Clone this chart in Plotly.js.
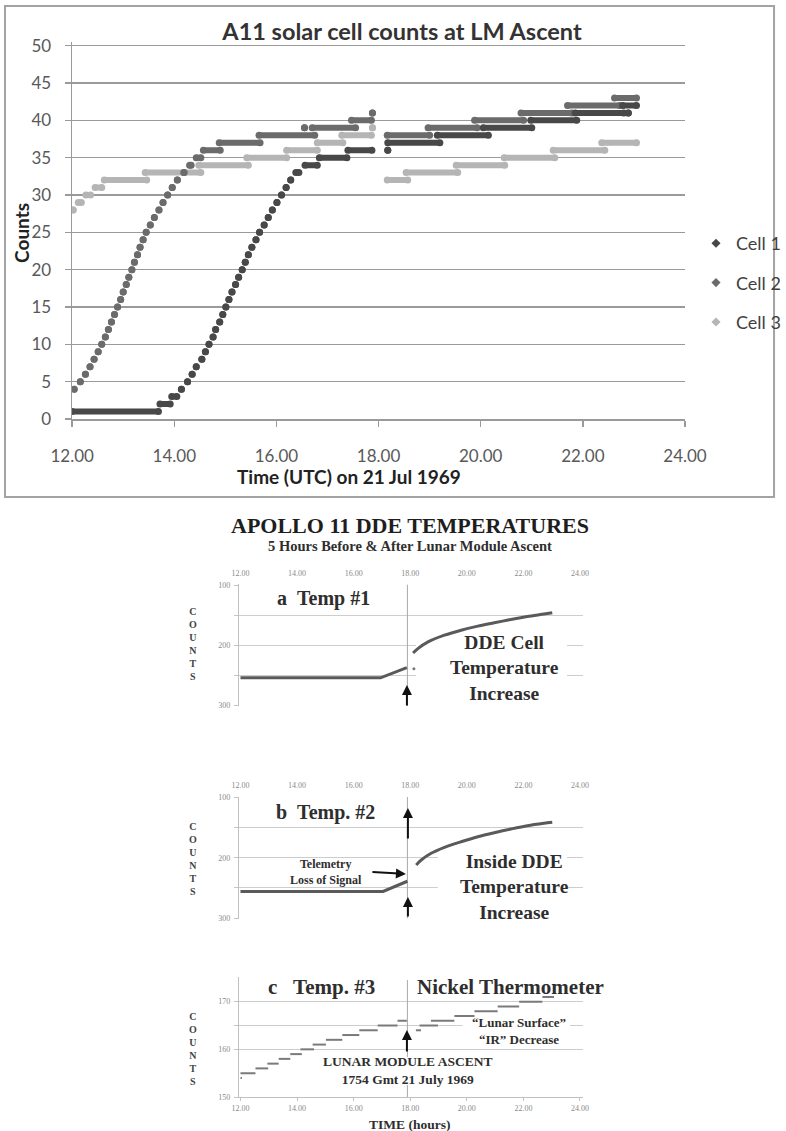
<!DOCTYPE html>
<html><head><meta charset="utf-8">
<script src="https://cdn.plot.ly/plotly-3.0.1.min.js"></script>
<style>html,body{margin:0;padding:0;background:#fff}</style>
</head><body><div id="chart" style="width:786px;height:1131px"></div>
<script>
// ---------------- DATA ----------------
// Top chart: solar cell counts, segments [startHour, endHour, count]
const cellNames = ['Cell 1', 'Cell 2', 'Cell 3'];
const cell1Segments = [
  [12.00,13.69,1],[13.72,13.92,2],[13.95,14.05,3],[14.14,14.14,4],[14.26,14.26,5],[14.35,14.35,6],
  [14.43,14.43,7],[14.54,14.54,8],[14.61,14.61,9],[14.68,14.68,10],[14.76,14.76,11],[14.81,14.81,12],
  [14.89,14.89,13],[14.95,14.95,14],[15.01,15.01,15],[15.07,15.07,16],[15.13,15.13,17],[15.20,15.20,18],
  [15.26,15.26,19],[15.33,15.33,20],[15.39,15.39,21],[15.45,15.45,22],[15.52,15.52,23],[15.60,15.60,24],
  [15.67,15.67,25],[15.76,15.76,26],[15.84,15.84,27],[15.92,15.92,28],[16.01,16.01,29],[16.10,16.10,30],
  [16.19,16.19,31],[16.28,16.28,32],[16.38,16.44,33],[16.56,16.80,34],[16.84,17.38,35],[17.40,17.87,36],
  [18.18,18.18,36],[18.18,19.20,37],[19.15,20.15,38],[20.05,21.00,39],[20.98,21.88,40],[21.85,22.80,41],
  [22.89,22.89,41],[22.78,23.05,42]
];
const cell2Segments = [
  [12.04,12.04,4],[12.16,12.16,5],[12.26,12.26,6],[12.35,12.35,7],[12.43,12.43,8],[12.51,12.51,9],
  [12.58,12.58,10],[12.65,12.65,11],[12.71,12.71,12],[12.77,12.77,13],[12.83,12.83,14],[12.89,12.89,15],
  [12.95,12.95,16],[13.00,13.00,17],[13.06,13.06,18],[13.11,13.11,19],[13.17,13.17,20],[13.22,13.22,21],
  [13.28,13.28,22],[13.33,13.33,23],[13.39,13.39,24],[13.45,13.45,25],[13.53,13.53,26],[13.61,13.61,27],
  [13.70,13.70,28],[13.78,13.78,29],[13.87,13.87,30],[13.96,13.96,31],[14.06,14.06,32],[14.19,14.19,33],
  [14.30,14.33,34],[14.43,14.52,35],[14.57,14.90,36],[14.88,15.68,37],[15.66,16.75,38],[16.55,16.55,39],
  [16.70,17.55,39],[17.47,17.86,40],[17.88,17.88,41],
  [18.17,19.00,38],[18.97,19.93,39],[19.88,20.84,40],[20.79,21.78,41],[21.70,22.72,42],[22.62,23.05,43]
];
const cell3Segments = [
  [12.02,12.02,28],[12.12,12.18,29],[12.27,12.36,30],[12.45,12.58,31],[12.63,13.46,32],[13.43,14.52,33],
  [14.48,15.45,34],[15.42,16.20,35],[16.20,16.80,36],[16.80,17.30,37],[17.28,17.86,38],[17.88,17.88,39],
  [18.17,18.57,32],[18.54,19.55,33],[19.52,20.47,34],[20.46,21.45,35],[21.42,22.43,36],[22.37,23.05,37]
];
const xTickHours = [12, 14, 16, 18, 20, 22, 24];

// LM ascent time (1754 GMT)
const ascentHour = 17.9;

// Temp #1 (DDE cell)
const temp1PreTime = [12.00, 16.95, 17.88];
const temp1PreCounts = [254, 254, 237];
const temp1DotTime = [18.13];
const temp1DotCounts = [239];
const temp1PostTime = [18.10, 18.27, 18.63, 19.21, 19.80, 20.39, 20.97, 21.56, 22.14, 22.73, 23.02];
const temp1PostCounts = [212.8, 205.5, 194.4, 183.3, 175.0, 168.3, 162.8, 157.2, 152.2, 148.3, 146.1];

// Temp #2 (inside DDE)
const temp2PreTime = [12.00, 17.04, 17.90];
const temp2PreCounts = [256, 256, 239];
const temp2PostTime = [18.21, 18.39, 18.74, 19.21, 19.80, 20.39, 20.97, 21.56, 22.14, 22.73, 23.02];
const temp2PostCounts = [212, 203.7, 192.6, 182.7, 173.4, 165.1, 158.4, 152.3, 146.8, 142.8, 141.2];

// Temp #3 (nickel thermometer) steps [startHour, endHour, count]
const temp3Segments = [
  [12.00,12.05,154],[12.00,12.53,155],[12.53,12.98,156],[12.95,13.35,157],[13.35,13.76,158],[13.76,14.17,159],
  [14.12,14.60,160],[14.55,15.02,161],[15.02,15.60,162],[15.60,16.20,163],[16.20,16.85,164],[16.85,17.55,165],
  [17.55,17.88,166],
  [18.20,18.38,164],[18.33,18.98,165],[18.73,19.56,166],[19.56,20.27,167],[20.27,21.09,168],[21.09,21.85,169],
  [21.85,22.67,170],[22.67,23.08,171]
];
const tempTickVals = [100, 150, 200, 250, 300];
const tempTickText = ['100', '', '200', '', '300'];
const temp3TickVals = [150, 160, 165, 170];
const temp3TickText = ['150', '160', '', '170'];

// ---------------- BUILD ----------------
const W = 786, H = 1131;
const fx = p => p / W;
const fy = p => 1 - p / H;

function segXY(segs) {
  const x = [], y = [];
  segs.forEach(s => { x.push(s[0], s[1], null); y.push(s[2], s[2], null); });
  return {x, y};
}

const cellColors = ['#484848', '#6b6b6b', '#b5b5b5'];
const cellSegs = [cell1Segments, cell2Segments, cell3Segments];
const traces = [];

// draw order: cell 3, cell 2, cell 1
[2, 1, 0].forEach(i => {
  const d = segXY(cellSegs[i]);
  traces.push({
    type: 'scatter', mode: 'lines+markers', x: d.x, y: d.y, xaxis: 'x', yaxis: 'y',
    line: {color: cellColors[i], width: 6}, marker: {color: cellColors[i], size: 7},
    connectgaps: false, showlegend: false, hoverinfo: 'skip'
  });
});
// legend entries
[0, 1, 2].forEach(i => {
  traces.push({
    type: 'scatter', mode: 'markers', x: [null], y: [null], xaxis: 'x', yaxis: 'y',
    name: cellNames[i], legendgroup: 'g' + i,
    marker: {color: cellColors[i], size: 7, symbol: 'diamond'}, hoverinfo: 'skip'
  });
});

const tempLine = {color: '#5a5a5a', width: 3};
traces.push({type:'scatter', mode:'lines', x: temp1PreTime, y: temp1PreCounts, xaxis:'x2', yaxis:'y2', line: tempLine, showlegend:false, hoverinfo:'skip'});
traces.push({type:'scatter', mode:'lines', x: temp1PostTime, y: temp1PostCounts, xaxis:'x2', yaxis:'y2', line: Object.assign({shape:'spline', smoothing:0.8}, tempLine), showlegend:false, hoverinfo:'skip'});
traces.push({type:'scatter', mode:'markers', x: temp1DotTime, y: temp1DotCounts, xaxis:'x2', yaxis:'y2', marker:{color:'#777', size:3}, showlegend:false, hoverinfo:'skip'});
traces.push({type:'scatter', mode:'lines', x: temp2PreTime, y: temp2PreCounts, xaxis:'x3', yaxis:'y3', line: tempLine, showlegend:false, hoverinfo:'skip'});
traces.push({type:'scatter', mode:'lines', x: temp2PostTime, y: temp2PostCounts, xaxis:'x3', yaxis:'y3', line: Object.assign({shape:'spline', smoothing:0.8}, tempLine), showlegend:false, hoverinfo:'skip'});
const t3 = segXY(temp3Segments);
traces.push({type:'scatter', mode:'lines', x: t3.x, y: t3.y, xaxis:'x4', yaxis:'y4', line:{color:'#7a7a7a', width:2}, connectgaps:false, showlegend:false, hoverinfo:'skip'});

// ---------------- LAYOUT ----------------
const serif = 'Liberation Serif, Times New Roman, serif';
const lato = 'Lato, Open Sans, sans-serif';
const smallTick = {family: serif, size: 8, color: '#8a8a8a'};

// lower plot areas (pixels)
const LX0 = 240, LX1 = 585.8;
const lowerRange = [11.94, 24.1];
const A = {top: 584.4, bot: 706.1, r: [301, 99]};
const B = {top: 796.9, bot: 918.6, r: [301, 99]};
const C = {top: 976.9, bot: 1097, r: [150, 175.2]};
const xTickText = xTickHours.map(h => h.toFixed(2));
// pixel -> data helpers for the lower panels (layout positioning only)
const dx = p => lowerRange[0] + (p - LX0) / (LX1 - LX0) * (lowerRange[1] - lowerRange[0]);
const dy = (box, p) => box.r[0] + (box.bot - p) / (box.bot - box.top) * (box.r[1] - box.r[0]);

function lowerX(anchor, side, extra) {
  return Object.assign({
    domain: [fx(LX0), fx(LX1)], range: lowerRange, anchor: anchor, side: side,
    tickvals: xTickHours, ticktext: xTickText, ticks: '', showline: false, showgrid: false,
    zeroline: false, tickfont: smallTick, automargin: false, fixedrange: true, ticklabelstandoff: 6
  }, extra || {});
}
function lowerY(anchor, box, tv, tt) {
  return {
    domain: [fy(box.bot), fy(box.top)], range: box.r, anchor: anchor,
    tickvals: tv, ticktext: tt, ticks: 'outside', ticklen: 4, tickcolor: '#c4c4c4',
    showline: true, linecolor: '#c0c0c0', linewidth: 1, gridcolor: '#cdcdcd', gridwidth: 1,
    zeroline: false, tickfont: smallTick, automargin: false, fixedrange: true, ticklabelstandoff: 2
  };
}

const layout = {
  width: W, height: H, margin: {l: 0, r: 0, t: 0, b: 0},
  paper_bgcolor: '#fff', plot_bgcolor: 'rgba(0,0,0,0)',
  title: {text: 'A11 solar cell counts at LM Ascent', x: fx(402), xanchor: 'center', y: fy(32), yanchor: 'middle',
          font: {family: lato, size: 23.5, color: '#333', weight: 'bold'}},
  showlegend: true,
  legend: {x: fx(700), y: fy(225), xanchor: 'left', yanchor: 'top', traceorder: 'grouped', tracegroupgap: 13,
           font: {family: lato, size: 18, color: '#404040'}, bgcolor: 'rgba(0,0,0,0)'},
  xaxis: {domain: [fx(72.5), fx(688.5)], range: [12, 24], anchor: 'y', tickvals: xTickHours, ticktext: xTickText,
          ticks: 'outside', ticklen: 6, tickwidth: 1.5, tickcolor: '#9a9a9a', showline: true, linecolor: '#9a9a9a',
          linewidth: 1.5, showgrid: false, zeroline: false, tickfont: {family: lato, size: 17, color: '#595959'},
          ticklabelstandoff: 15, automargin: false, fixedrange: true},
  yaxis: {domain: [fy(419), fy(419 - 50.5 * 7.466)], range: [0, 50.5], anchor: 'x', tick0: 0, dtick: 5,
          ticks: 'outside', ticklen: 6, tickwidth: 1.5, tickcolor: '#9a9a9a', showline: true, linecolor: '#9a9a9a',
          linewidth: 1.5, gridcolor: '#9a9a9a', gridwidth: 1.5, zeroline: false,
          tickfont: {family: lato, size: 17, color: '#595959'}, ticklabelstandoff: 10, automargin: false, fixedrange: true},
  xaxis2: lowerX('y2', 'top'),
  yaxis2: lowerY('x2', A, tempTickVals, tempTickText),
  xaxis3: lowerX('y3', 'top'),
  yaxis3: lowerY('x3', B, tempTickVals, tempTickText),
  xaxis4: lowerX('y4', 'bottom', {showline: true, linecolor: '#c0c0c0', ticks: 'outside', ticklen: 3, tickcolor: '#c4c4c4', ticklabelstandoff: 0}),
  yaxis4: lowerY('x4', C, temp3TickVals, temp3TickText),
  shapes: [],
  annotations: []
};

// frame of the top chart
layout.shapes.push({type: 'rect', xref: 'paper', yref: 'paper', x0: fx(5), x1: fx(778), y0: fy(497), y1: fy(6),
  line: {color: '#a3a3a3', width: 2}, fillcolor: 'rgba(0,0,0,0)'});

// ascent vertical lines
[['x2','y2',A,A.top],['x3','y3',B,B.top],['x4','y4',C,980]].forEach(a => {
  layout.shapes.push({type: 'line', xref: a[0], yref: a[1], x0: ascentHour, x1: ascentHour,
    y0: a[2].r[0], y1: dy(a[2], a[3]), line: {color: '#a8a8a8', width: 1}, layer: 'between'});
});
// white masks behind text blocks (hide gridlines only)
function mask(xr, yr, box, p0, p1, q0, q1) {
  layout.shapes.push({type: 'rect', xref: xr, yref: yr,
    x0: dx(p0), x1: dx(p1), y0: dy(box, q1), y1: dy(box, q0),
    line: {width: 0}, fillcolor: '#fff', layer: 'between'});
}
mask('x2', 'y2', A, 418, 570, 636, 698);
mask('x3', 'y3', B, 440, 570, 855, 914);
mask('x4', 'y4', C, 465, 573, 1014, 1044);
mask('x4', 'y4', C, 318, 502, 1057, 1085);

function txt(text, x, y, size, opts) {
  layout.annotations.push(Object.assign({
    text: text, xref: 'paper', yref: 'paper', x: fx(x), y: fy(y), xanchor: 'center', yanchor: 'middle',
    showarrow: false, align: 'center', font: {family: serif, size: size, color: '#2e2e2e', weight: 'bold'}
  }, opts || {}));
}
function arrow(x, y, ax, ay) {
  layout.annotations.push({text: '', xref: 'paper', yref: 'paper', x: fx(x), y: fy(y), ax: ax, ay: ay,
    showarrow: true, arrowhead: 2, arrowsize: 1, arrowwidth: 2, arrowcolor: '#111'});
}

// top chart axis titles
txt('Counts', 21, 233, 19, {textangle: -90, font: {family: lato, size: 19, color: '#222', weight: 'bold'}});
txt('Time (UTC) on 21 Jul 1969', 351, 476, 19, {font: {family: lato, size: 19, color: '#222', weight: 'bold'}});

// lower headline
txt('APOLLO 11 DDE TEMPERATURES', 412.5, 525.5, 22, {font: {family: serif, size: 22, color: '#1e1e1e', weight: 'bold'}});
txt('5 Hours Before &amp; After Lunar Module Ascent', 412, 546, 14.5);

// COUNTS labels
const countsV = 'C<br>O<br>U<br>N<br>T<br>S';
[644, 859, 1049].forEach(cy => txt(countsV, 194, cy, 10, {font: {family: serif, size: 10, color: '#444', weight: 'bold'}}));

// chart a
txt('a\u00a0\u00a0Temp #1', 325, 598, 20);
txt('DDE Cell<br>Temperature<br>Increase', 507, 667.5, 19.5);
arrow(409, 685, 0, 22);

// chart b
txt('b\u00a0\u00a0Temp. #2', 327.5, 812, 20);
txt('Telemetry<br>Loss of Signal', 328, 872, 12);
txt('Inside DDE<br>Temperature<br>Increase', 517, 886.5, 19.5);
arrow(410, 808, 0, 32);
arrow(410, 897, 0, 21);
arrow(408, 874, -35, -2);

// chart c
txt('c\u00a0\u00a0\u00a0Temp. #3', 323, 987, 21);
txt('Nickel Thermometer', 513.5, 987, 21);
txt('\u201cLunar Surface\u201d<br>\u201cIR\u201d Decrease', 522, 1031, 13);
txt('LUNAR MODULE ASCENT<br>1754 Gmt 21 July 1969', 410, 1070.5, 13.5);
txt('TIME (hours)', 412, 1124, 13.5);
arrow(409, 1030, 0, 23);

Plotly.newPlot('chart', traces, layout, {staticPlot: true, displayModeBar: false});
</script></body></html>
